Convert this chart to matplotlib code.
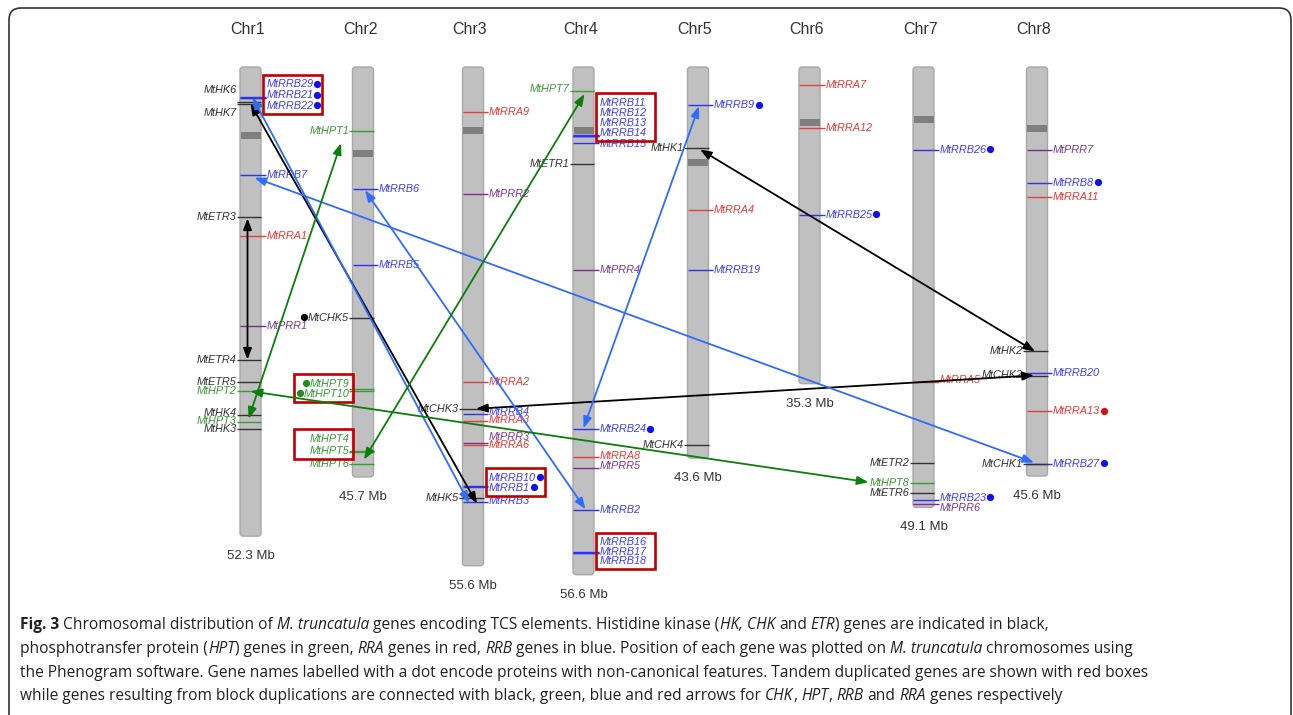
import matplotlib
matplotlib.use("Agg")
import matplotlib.pyplot as plt
from matplotlib import font_manager
from matplotlib.patches import FancyBboxPatch, Rectangle, FancyArrowPatch, PathPatch
from matplotlib.path import Path

# ---------------- data ----------------
chromosomes = ["Chr1", "Chr2", "Chr3", "Chr4", "Chr5", "Chr6", "Chr7", "Chr8"]
chrom_length_mb = [52.3, 45.7, 55.6, 56.6, 43.6, 35.3, 49.1, 45.6]
centromere_mb = [7.65, 9.6, 7.1, 7.1, 10.6, 6.2, 5.8, 6.9]

gene_names = [
    # Chr1
    "MtRRB29", "MtRRB21", "MtRRB22", "MtHK6", "MtHK7", "MtRRB7", "MtETR3", "MtRRA1",
    "MtPRR1", "MtETR4", "MtETR5", "MtHPT2", "MtHK4", "MtHPT3", "MtHK3",
    # Chr2
    "MtHPT1", "MtRRB6", "MtRRB5", "MtCHK5", "MtHPT9", "MtHPT10", "MtHPT4", "MtHPT5", "MtHPT6",
    # Chr3
    "MtRRA9", "MtPRR2", "MtRRA2", "MtCHK3", "MtRRB4", "MtRRA3", "MtPRR3", "MtRRA6",
    "MtRRB10", "MtRRB1", "MtHK5", "MtRRB3",
    # Chr4
    "MtHPT7", "MtRRB11", "MtRRB12", "MtRRB13", "MtRRB14", "MtRRB15", "MtETR1", "MtPRR4",
    "MtRRB24", "MtRRA8", "MtPRR5", "MtRRB2", "MtRRB16", "MtRRB17", "MtRRB18",
    # Chr5
    "MtRRB9", "MtHK1", "MtRRA4", "MtRRB19", "MtCHK4",
    # Chr6
    "MtRRA7", "MtRRA12", "MtRRB25",
    # Chr7
    "MtRRB26", "MtRRA5", "MtETR2", "MtHPT8", "MtETR6", "MtRRB23", "MtPRR6",
    # Chr8
    "MtPRR7", "MtRRB8", "MtRRA11", "MtHK2", "MtRRB20", "MtCHK2", "MtRRA13", "MtRRB27", "MtCHK1",
]
gene_chrom = (["Chr1"] * 15 + ["Chr2"] * 9 + ["Chr3"] * 12 + ["Chr4"] * 15 +
              ["Chr5"] * 5 + ["Chr6"] * 3 + ["Chr7"] * 7 + ["Chr8"] * 9)
gene_pos_mb = [
    3.40, 3.45, 3.50, 3.88, 4.08, 12.0, 16.76, 18.88, 28.83, 32.63, 35.16, 36.15, 38.77, 39.55, 40.34,
    7.15, 13.63, 22.12, 27.93, 35.87, 36.17, 42.84, 42.90, 44.21,
    4.99, 14.19, 35.08, 38.10, 38.66, 39.52, 41.87, 42.12, 46.75, 46.80, 48.01, 48.49,
    2.68, 7.62, 7.65, 7.68, 7.71, 8.46, 10.76, 22.68, 40.37, 43.46, 44.66, 49.42, 54.12, 54.16, 54.20,
    4.25, 9.08, 15.98, 22.68, 42.12,
    2.01, 6.78, 16.46,
    9.20, 35.08, 44.10, 46.40, 47.45, 48.30, 48.68,
    9.27, 12.88, 14.49, 31.70, 34.11, 34.49, 38.40, 44.21, 44.28,
]
gene_family = [
    "RRB", "RRB", "RRB", "HK", "HK", "RRB", "HK", "RRA", "PRR", "HK", "HK", "HPT", "HK", "HPT", "HK",
    "HPT", "RRB", "RRB", "HK", "HPT", "HPT", "HPT", "HPT", "HPT",
    "RRA", "PRR", "RRA", "HK", "RRB", "RRA", "PRR", "RRA", "RRB", "RRB", "HK", "RRB",
    "HPT", "RRB", "RRB", "RRB", "RRB", "RRB", "HK", "PRR", "RRB", "RRA", "PRR", "RRB", "RRB", "RRB", "RRB",
    "RRB", "HK", "RRA", "RRB", "HK",
    "RRA", "RRA", "RRB",
    "RRB", "RRA", "HK", "HPT", "HK", "RRB", "PRR",
    "PRR", "RRB", "RRA", "HK", "RRB", "HK", "RRA", "RRB", "HK",
]
gene_side = [
    "R", "R", "R", "L", "L", "R", "L", "R", "R", "L", "L", "L", "L", "L", "L",
    "L", "R", "R", "L", "L", "L", "L", "L", "L",
    "R", "R", "R", "L", "R", "R", "R", "R", "R", "R", "L", "R",
    "L", "R", "R", "R", "R", "R", "L", "R", "R", "R", "R", "R", "R", "R", "R",
    "R", "L", "R", "R", "L",
    "R", "R", "R",
    "R", "R", "L", "L", "L", "R", "R",
    "R", "R", "R", "L", "R", "L", "R", "R", "L",
]
non_canonical = ["MtRRB29", "MtRRB21", "MtRRB22", "MtCHK5", "MtHPT9", "MtHPT10", "MtRRB10",
                 "MtRRB1", "MtRRB24", "MtRRB9", "MtRRB25", "MtRRB26", "MtRRB23", "MtRRB8",
                 "MtRRA13", "MtRRB27"]
tandem_groups = [
    ["MtRRB29", "MtRRB21", "MtRRB22"],
    ["MtHPT9", "MtHPT10"],
    ["MtHPT4", "MtHPT5"],
    ["MtRRB10", "MtRRB1"],
    ["MtRRB11", "MtRRB12", "MtRRB13", "MtRRB14"],
    ["MtRRB16", "MtRRB17", "MtRRB18"],
]
block_pairs = [
    ("MtETR3", "MtETR4", "HK"),
    ("MtHK7", "MtHK5", "HK"),
    ("MtHK1", "MtHK2", "HK"),
    ("MtCHK3", "MtCHK2", "HK"),
    ("MtRRB22", "MtRRB3", "RRB"),
    ("MtRRB7", "MtRRB27", "RRB"),
    ("MtRRB6", "MtRRB2", "RRB"),
    ("MtRRB9", "MtRRB24", "RRB"),
    ("MtHPT1", "MtHPT3", "HPT"),
    ("MtHPT7", "MtHPT6", "HPT"),
    ("MtHPT2", "MtHPT8", "HPT"),
]

# caption: (text, style) segments, b = bold, i = italic, n = normal
caption_lines = [
    [("Fig. 3", "b"), (" Chromosomal distribution of ", "n"), ("M. truncatula", "i"),
     (" genes encoding TCS elements. Histidine kinase (", "n"), ("HK, CHK", "i"), (" and ", "n"),
     ("ETR", "i"), (") genes are indicated in black,", "n")],
    [("phosphotransfer protein (", "n"), ("HPT", "i"), (") genes in green, ", "n"), ("RRA", "i"),
     (" genes in red, ", "n"), ("RRB", "i"), (" genes in blue. Position of each gene was plotted on ", "n"),
     ("M. truncatula", "i"), (" chromosomes using", "n")],
    [("the Phenogram software. Gene names labelled with a dot encode proteins with non-canonical "
      "features. Tandem duplicated genes are shown with red boxes", "n")],
    [("while genes resulting from block duplications are connected with black, green, blue and red "
      "arrows for ", "n"), ("CHK", "i"), (", ", "n"), ("HPT", "i"), (", ", "n"), ("RRB", "i"),
     (" and ", "n"), ("RRA", "i"), (" genes respectively", "n")],
]

# ---------------- layout (positions / styles) ----------------
W, H, DPI = 1293, 715, 100
PX_PER_MB = 8.97
TOP_PX = 67
chrom_x = [250.5, 363, 473, 583.5, 698, 809.5, 923.5, 1037]
label_mb = {
    "MtRRB29": 1.9, "MtRRB21": 3.13, "MtRRB22": 4.32, "MtHK6": 2.57, "MtHK7": 5.14,
    "MtHK4": 38.55, "MtHPT3": 39.44, "MtHPT9": 35.31, "MtHPT10": 36.42, "MtHPT4": 41.45,
    "MtHPT5": 42.79, "MtRRB4": 38.44, "MtRRA3": 39.33, "MtPRR3": 41.23, "MtRRB10": 45.81,
    "MtRRB1": 46.93, "MtRRB3": 48.38, "MtHPT7": 2.46, "MtRRB11": 3.99, "MtRRB12": 5.10,
    "MtRRB13": 6.29, "MtRRB14": 7.41, "MtRRB15": 8.60, "MtRRA8": 43.35, "MtPRR5": 44.47,
    "MtRRB16": 52.96, "MtRRB17": 54.04, "MtRRB18": 55.08, "MtRRA5": 34.86, "MtRRB23": 48.04,
    "MtPRR6": 49.16, "MtCHK2": 34.30,
}
# arrow end offsets in pixels (dxA, dyA, dxB, dyB)
arrow_offsets = {
    ("MtETR3", "MtETR4"): (-3, 1, -3, 0),
    ("MtHK7", "MtHK5"): (0, 0, 4, 6),
    ("MtHK1", "MtHK2"): (2, 1, -2, 0),
    ("MtCHK3", "MtCHK2"): (3, 0, -3, -1),
    ("MtRRB22", "MtRRB3"): (2, -1, -4, 1),
    ("MtRRB7", "MtRRB27"): (4, 3, -3, -1),
    ("MtRRB6", "MtRRB2"): (2, 1, 2, -1),
    ("MtRRB9", "MtRRB24"): (1, 1, 0, -1),
    ("MtHPT1", "MtHPT3"): (-22, 12, -2, -3),
    ("MtHPT7", "MtHPT6"): (1, 3, 1, -4),
    ("MtHPT2", "MtHPT8"): (0, 0, -55, -1),
}
tick_color = {"HK": "#333333", "HPT": "#3A9A3A", "RRA": "#E0403C", "RRB": "#3030F0", "PRR": "#7A2E8A"}
text_color = {"HK": "#333333", "HPT": "#3A9A3A", "RRA": "#E63A36", "RRB": "#3F3FF5", "PRR": "#7F3A8F"}
dot_color = {"HK": "#000000", "HPT": "#1E8C1E", "RRA": "#D01010", "RRB": "#1010F0", "PRR": "#7A2E8A"}
arrow_color = {"HK": "#000000", "HPT": "#0A7F0A", "RRB": "#2F6BFF", "RRA": "#E00000"}
LABEL_FS = 7.8

names_avail = {f.name for f in font_manager.fontManager.ttflist}
def pick(cands):
    for c in cands:
        if c in names_avail:
            return c
    return "DejaVu Sans"

label_font = [pick(["Liberation Sans", "Arial"]), "DejaVu Sans"]
cap_font = pick(["Open Sans", "Lato", "Noto Sans"])

fig = plt.figure(figsize=(W / DPI, H / DPI), dpi=DPI)
fx = fig.add_axes([0, 0, 1, 1])
fx.set_xlim(0, W)
fx.set_ylim(H, 0)
fx.axis("off")
ax = fig.add_axes([0, 0, 1, 1], facecolor="none")
ax.set_xlim(0, W)
ax.set_ylim((H - TOP_PX) / PX_PER_MB, -TOP_PX / PX_PER_MB)
ax.axis("off")

def mb(px):
    return px / PX_PER_MB

cx_of = dict(zip(chromosomes, chrom_x))

# chromosomes
for name, x, L, c in zip(chromosomes, chrom_x, chrom_length_mb, centromere_mb):
    bar = FancyBboxPatch((x - 10.5, 0), 21, L, boxstyle="round,pad=0,rounding_size=3",
                         mutation_aspect=1 / PX_PER_MB, fc="#C0C0C0", ec="#A8A8A8", lw=1.0, zorder=1)
    ax.add_patch(bar)
    ax.add_patch(Rectangle((x - 10, c - mb(3.5)), 20, mb(7), fc="#7F7F7F", ec="none", zorder=1.5))
    ax.text(x - 3, mb(30 - TOP_PX), name, ha="center", va="center", fontsize=11.5,
            family=label_font, color="#333333")
    ax.text(x, L + mb(20), f"{L} Mb", ha="center", va="center", fontsize=9.5,
            family=label_font, color="#333333")

# genes
gene_xy = {}
label_artists = []
for g, ch, p, fam, side in zip(gene_names, gene_chrom, gene_pos_mb, gene_family, gene_side):
    x = cx_of[ch]
    gene_xy[g] = (x, p)
    ly = label_mb.get(g, p)
    if side == "R":
        ax.plot([x - 10.5, x + 15], [p, p], color=tick_color[fam], lw=1.0, zorder=2, solid_capstyle="butt")
        t = ax.text(x + 16, ly, g, ha="left", va="center", fontsize=LABEL_FS, style="italic",
                    family=label_font, color=text_color[fam], zorder=3)
    else:
        ax.plot([x - 14, x + 10.5], [p, p], color=tick_color[fam], lw=1.0, zorder=2, solid_capstyle="butt")
        t = ax.text(x - 14, ly, g, ha="right", va="center", fontsize=LABEL_FS, style="italic",
                    family=label_font, color=text_color[fam], zorder=3)
    if g in non_canonical:
        label_artists.append((t, side, ly, fam))

# tandem boxes
side_of = dict(zip(gene_names, gene_side))
for grp in tandem_groups:
    x = gene_xy[grp[0]][0]
    ys = [label_mb.get(g, gene_xy[g][1]) for g in grp]
    top = min(ys) - mb(9.5)
    bot = max(ys) + mb(8)
    if side_of[grp[0]] == "R":
        x0 = x + 12.5
    else:
        x0 = x - 10 - 59
    ax.add_patch(Rectangle((x0, top), 59, bot - top, fill=False, ec="#C00000", lw=1.9, zorder=4))

# block duplication arrows
for a, b, fam in block_pairs:
    dxa, dya, dxb, dyb = arrow_offsets[(a, b)]
    xa, ya = gene_xy[a]
    xb, yb = gene_xy[b]
    arr = FancyArrowPatch((xa + dxa, ya + mb(dya)), (xb + dxb, yb + mb(dyb)),
                          arrowstyle="<|-|>,head_length=0.45,head_width=0.17", mutation_scale=15,
                          lw=1.3, color=arrow_color[fam], shrinkA=0, shrinkB=0, zorder=6)
    ax.add_patch(arr)

# frame
r = 12
verts = [(9, H + 5), (9, 8 + r), (9, 8), (9 + r, 8), (1291 - r, 8), (1291, 8), (1291, 8 + r), (1291, H + 5)]
codes = [Path.MOVETO, Path.LINETO, Path.CURVE3, Path.CURVE3, Path.LINETO, Path.CURVE3, Path.CURVE3, Path.LINETO]
fx.add_patch(PathPatch(Path(verts, codes), fill=False, ec="#333333", lw=1.2, zorder=0))

# ---- measurement-dependent placement ----
fig.canvas.draw()
renderer = fig.canvas.get_renderer()

# dots for non-canonical proteins, placed just beside their labels
inv = ax.transData.inverted()
for t, side, ly, fam in label_artists:
    bb = t.get_window_extent(renderer)
    if side == "R":
        xd = inv.transform((bb.x1 + 3.6, 0))[0]
    else:
        xd = inv.transform((bb.x0 - 3.6, 0))[0]
    ax.plot([xd], [ly - mb(0.5)], "o", ms=5.2, mec="none", color=dot_color[fam], zorder=3)

# caption
def style_kw(st):
    if st == "b":
        return dict(weight="bold")
    if st == "i":
        return dict(style="italic")
    return {}

def width_px(s, st, fs):
    t = fx.text(0, 0, s, fontsize=fs, family=cap_font, **style_kw(st))
    w = t.get_window_extent(renderer).width
    t.remove()
    return w

base = 11
w3 = width_px(caption_lines[2][0][0], "n", base)
cap_fs = base * 1128 / w3
space_w = {st: width_px("a a", st, cap_fs) - width_px("aa", st, cap_fs) for st in "nbi"}
cap_y = [629, 653, 677, 700]
for segs, y in zip(caption_lines, cap_y):
    cur = 20
    for s, st in segs:
        lead = len(s) - len(s.lstrip(" "))
        trail = len(s) - len(s.rstrip(" "))
        core = s.strip(" ")
        cur += lead * space_w[st]
        if core:
            fx.text(cur, y, core, ha="left", va="baseline", fontsize=cap_fs, family=cap_font,
                    color="#231F20", **style_kw(st))
            cur += width_px(core, st, cap_fs)
        cur += trail * space_w[st]

fig.savefig("out.png", dpi=DPI)
